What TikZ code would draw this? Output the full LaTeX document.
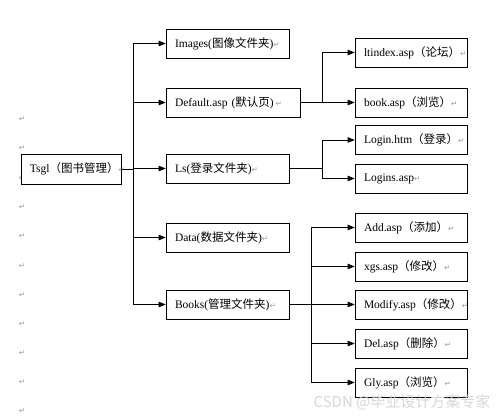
\documentclass[tikz,border=0pt]{standalone}
\usepackage{fontspec}
\setmainfont{Liberation Serif}
\newfontfamily\cjk{Noto Sans CJK SC}
\newfontfamily\symb{DejaVu Sans}
\usetikzlibrary{
    arrows.meta,
    positioning,
    calc
}
\definecolor{markgray}{gray}{0.6}
\definecolor{wmgray}{gray}{0.84}
\newcommand{\pmark}{{\symb\color{markgray}\fontsize{7.5}{8}\selectfont ↵}}
\tikzset {
    box/.style = {
        draw, fill = white, line width = 0.7pt,
        minimum height = 29pt, inner xsep = 9pt,
        align = left, font = \fontsize{11.5}{13}\selectfont
    },
    root box/.style = {box, text width = 82pt, minimum height = 30pt},
    dir box/.style = {box, text width = 105pt},
    wide box/.style = {box, text width = 116pt},
    page box/.style = {box, text width = 94pt},
    %
    link/.style = {line width = 0.7pt},
    arrowed/.style = {link, -{Triangle[length = 7pt, width = 5.5pt]}},
    para mark/.style = {inner sep = 0pt}
}

\begin{document}
\begin{tikzpicture}[x = 1pt, y = -1pt]
    \useasboundingbox (0, 0) rectangle (499, 417);
    % paragraph marks down the left margin
    \foreach \y [count = \i] in {119, 148, 178, 207, 236, 266, 295, 324, 353, 382, 411}
        \node (p\i) [para mark] at (22, \y) {\pmark};
    % root
    \node (root) [root box] at (71, 169) {Tsgl{\cjk （图书管理）}\pmark};
    % first level
    \node (images) [dir box] at (227.5, 43.5) {Images({\cjk 图像文件夹})\pmark};
    \node (default) [wide box] at (233, 102.5) {Default.asp ({\cjk 默认页})\,\pmark};
    \node (ls) [dir box] at (227.5, 168.5) {Ls({\cjk 登录文件夹})\pmark};
    \node (data) [dir box] at (227.5, 237.5) {Data({\cjk 数据文件夹})\pmark};
    \node (books) [dir box] at (227.5, 304.5) {Books({\cjk 管理文件夹})\pmark};
    % second level
    \node (ltindex) [page box] at (411, 52.5) {ltindex.asp{\cjk （论坛）}\pmark};
    \node (book) [page box] at (411, 102.5) {book.asp{\cjk （浏览）}\pmark};
    \node (login) [page box] at (411, 140) {Login.htm{\cjk （登录）}\pmark};
    \node (logins) [page box] at (411, 178.5) {Logins.asp\pmark};
    \node (add) [page box] at (411, 227.5) {Add.asp{\cjk （添加）}\pmark};
    \node (xgs) [page box] at (411, 266.5) {xgs.asp{\cjk （修改）}\pmark};
    \node (modify) [page box] at (411, 304.5) {Modify.asp{\cjk （修改）}\pmark};
    \node (del) [page box] at (411, 343.5) {Del.asp{\cjk （删除）}\pmark};
    \node (gly) [page box] at (411, 382.5) {Gly.asp{\cjk （浏览）}\pmark};
    % branch points
    \coordinate (trunk) at (133, 0);
    \coordinate (fork a) at (322, 0);
    \coordinate (fork b) at (311, 0);
    % root to first level
    \draw [link] (root.east) -- (trunk |- root.east);
    \draw [link] (trunk |- images.west) -- (trunk |- books.west);
    \foreach \n in {images, default, ls, data, books}
        \draw [arrowed] (trunk |- \n.west) -- (\n.west);
    % Default.asp
    \draw [link] (default.east) -- (fork a |- default.east);
    \draw [link] (fork a |- ltindex.west) -- (fork a |- book.west);
    \foreach \n in {ltindex, book}
        \draw [arrowed] (fork a |- \n.west) -- (\n.west);
    % Ls
    \draw [link] (ls.east) -- (fork a |- ls.east);
    \draw [link] (fork a |- login.west) -- (fork a |- logins.west);
    \foreach \n in {login, logins}
        \draw [arrowed] (fork a |- \n.west) -- (\n.west);
    % Books
    \draw [link] (books.east) -- (fork b |- books.east);
    \draw [link] (fork b |- add.west) -- (fork b |- gly.west);
    \foreach \n in {add, xgs, modify, del, gly}
        \draw [arrowed] (fork b |- \n.west) -- (\n.west);
    % watermark
    \node (wm) [inner sep = 0pt, text = wmgray, font = \cjk\fontsize{15}{18}\selectfont]
        at (402, 402) {CSDN @毕业设计方案专家};
\end{tikzpicture}
\end{document}
